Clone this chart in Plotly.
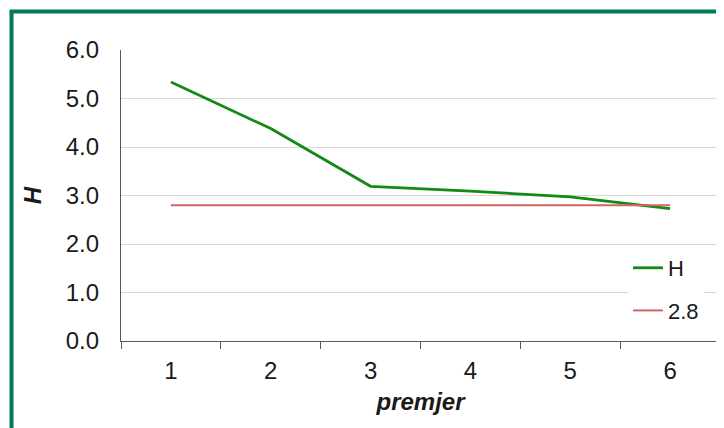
import plotly.graph_objects as go

categories = ["1", "2", "3", "4", "5", "6"]
h_values = [5.34, 4.38, 3.19, 3.09, 2.97, 2.73]
ref_value = 2.8
ref_values = [ref_value] * len(categories)
y_ticks = [0, 1, 2, 3, 4, 5, 6]
y_tick_labels = ["0.0", "1.0", "2.0", "3.0", "4.0", "5.0", "6.0"]

FONT = "Liberation Sans, Arial, sans-serif"

fig = go.Figure()
fig.add_trace(go.Scatter(x=categories, y=h_values, mode="lines", name="H",
                         line=dict(color="#138a13", width=2.8),
                         legendgroup="a"))
fig.add_trace(go.Scatter(x=categories, y=ref_values, mode="lines", name="2.8",
                         line=dict(color="#d26464", width=2),
                         legendgroup="b"))

OFF = 8  # page offset of the figure (body margin)
W, H = 724 - OFF, 428 - OFF
# plot area in page coordinates
PL, PR, PT, PB = 121, 720, 50, 341
L = PL - OFF
T = PT - OFF
R = W - (PR - OFF)
B = H - (PB - OFF)
pw = PR - PL
ph = PB - PT


def px_x(px):
    return (px - PL) / pw


def px_y(py):
    return (PB - py) / ph


fig.update_layout(
    width=W, height=H,
    margin=dict(l=L, r=R, t=T, b=B),
    paper_bgcolor="white", plot_bgcolor="white",
    font=dict(family=FONT, color="#1a1a1a", size=24),
    showlegend=True,
    legend=dict(x=px_x(628), y=px_y(247), xanchor="left", yanchor="top",
                bgcolor="white", borderwidth=0, font=dict(size=22),
                traceorder="grouped", tracegroupgap=11),
    xaxis=dict(type="category", range=[-0.5, 5.5], tickson="boundaries",
               ticks="outside", ticklen=7, tickcolor="#595959", tickwidth=1.3,
               showline=True, linecolor="#595959", linewidth=1.3,
               showgrid=False, zeroline=False, ticklabelstandoff=8,
               title=dict(text="premjer", standoff=10,
                          font=dict(size=24, weight="bold", style="italic"))),
    yaxis=dict(range=[0, 6], tickvals=y_ticks, ticktext=y_tick_labels,
               showline=True, linecolor="#595959", linewidth=1.3,
               showgrid=True, gridcolor="#d9d9d9", gridwidth=1.3,
               zeroline=False, ticks="", ticklabelstandoff=16,
               title=dict(text="H", standoff=17,
                          font=dict(size=24, weight="bold", style="italic"))),
    shapes=[dict(type="rect", xref="paper", yref="paper",
                 x0=px_x(11.5), x1=px_x(760), y0=px_y(470), y1=px_y(11.5),
                 line=dict(color="#00785a", width=4), fillcolor="rgba(0,0,0,0)",
                 layer="above")],
)

fig.write_html("out.html")
